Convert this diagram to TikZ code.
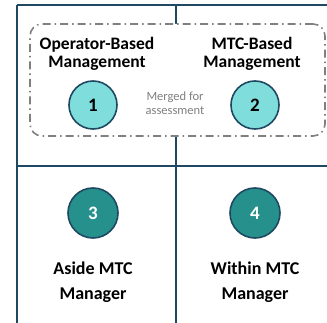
\documentclass[tikz,border=0pt]{standalone}
\usepackage{fontspec}
\setmainfont{Carlito}
\usetikzlibrary{positioning, backgrounds}
\definecolor{framenavy}{RGB}{31, 73, 98}
\definecolor{lightteal}{RGB}{127, 222, 220}
\definecolor{darkteal}{RGB}{38, 145, 140}
\definecolor{mergegray}{RGB}{128, 128, 128}
\tikzstyle{frameline} = [draw=framenavy, line width=1.8pt]
\tikzstyle{mergebox} = [rectangle, rounded corners=12pt, draw=mergegray, fill=white, line width=1.6pt, dash pattern=on 8pt off 4pt on 1.5pt off 4pt]
\tikzstyle{badgelight} = [circle, minimum size=48pt, inner sep=0pt, draw=framenavy, line width=1.6pt, fill=lightteal, text=black, font=\fontsize{19}{19}\selectfont\bfseries]
\tikzstyle{badgedark} = [circle, minimum size=50pt, inner sep=0pt, draw=framenavy, line width=1.6pt, fill=darkteal, text=white, font=\fontsize{19}{19}\selectfont\bfseries]
\tikzstyle{toplabel} = [align=center, font=\fontsize{17.5}{18.5}\selectfont\bfseries]
\tikzstyle{bottomlabel} = [align=center, font=\fontsize{18}{25}\selectfont\bfseries]
\tikzstyle{mergenote} = [align=center, text=mergegray, font=\fontsize{12.5}{13.5}\selectfont]

\begin{document}
\begin{tikzpicture}[x=1pt, y=-1pt]
\useasboundingbox (0,0) rectangle (327,323);

% Quadrant frame
\coordinate (topleft) at (17,5);
\coordinate (topright) at (335,5);
\coordinate (bottomleft) at (17,330);
\coordinate (midtop) at (176,5);
\coordinate (midbottom) at (176,330);
\coordinate (midleft) at (17,166);
\coordinate (midright) at (335,166);
\draw [frameline] (topleft) -- (topright);
\draw [frameline] (topleft) -- (bottomleft);
\draw [frameline] (midtop) -- (midbottom);
\draw [frameline] (midleft) -- (midright);

% Merged region
\node (merged) [mergebox, minimum width=295pt, minimum height=112pt] at (177.5,80) {};
\node (note) [mergenote] at (175,103) {Merged for\\assessment};

% Upper quadrants
\node (opcircle) [badgelight] at (93,105) {1};
\node (mtccircle) [badgelight] at (255,105) {2};
\node (oplabel) [toplabel] at (97,54) {Operator-Based\\Management};
\node (mtclabel) [toplabel] at (252,54) {MTC-Based\\Management};

% Lower quadrants
\node (asidecircle) [badgedark] at (93,213) {3};
\node (withincircle) [badgedark] at (255,213) {4};
\node (asidelabel) [bottomlabel] at (93,282) {Aside MTC\\Manager};
\node (withinlabel) [bottomlabel] at (255,282) {Within MTC\\Manager};

\end{tikzpicture}
\end{document}
